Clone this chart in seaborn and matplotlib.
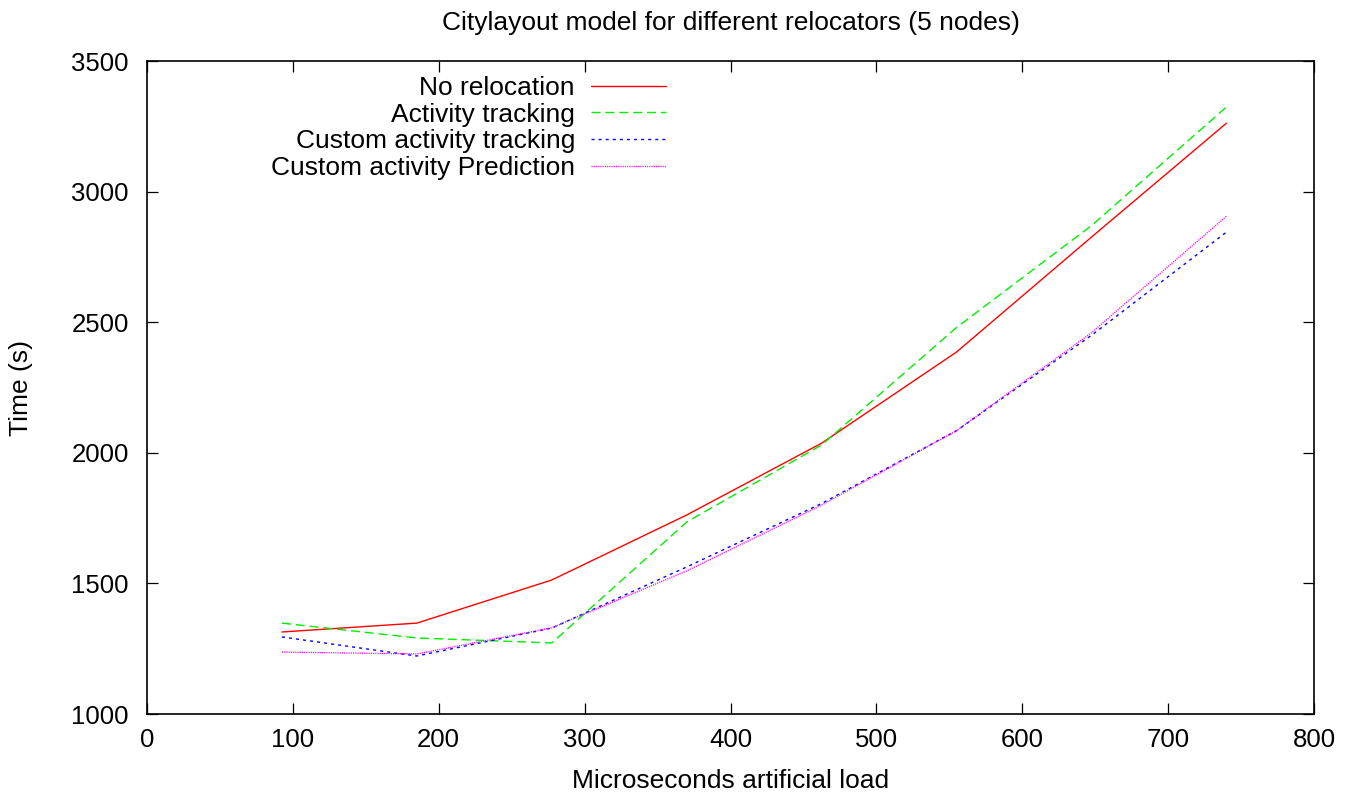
import matplotlib
matplotlib.use("Agg")
import matplotlib.pyplot as plt
import seaborn as sns
import pandas as pd

# Artificial load (microseconds) and run time (s) for each relocator
load_us = [92.5, 185, 277.5, 370, 462.5, 555, 647.5, 740]
no_relocation = [1314, 1348, 1513, 1762, 2037, 2386, 2826, 3262]
activity_tracking = [1348, 1291, 1272, 1735, 2030, 2480, 2870, 3324]
custom_activity_tracking = [1295, 1222, 1329, 1563, 1806, 2085, 2450, 2845]
custom_activity_prediction = [1237, 1230, 1330, 1548, 1800, 2085, 2460, 2906]

series_names = ["No relocation", "Activity tracking",
                "Custom activity tracking", "Custom activity Prediction"]
series_values = [no_relocation, activity_tracking,
                 custom_activity_tracking, custom_activity_prediction]

x_ticks = [0, 100, 200, 300, 400, 500, 600, 700, 800]
y_ticks = [1000, 1500, 2000, 2500, 3000, 3500]

title = "Citylayout model for different relocators (5 nodes)"
x_label = "Microseconds artificial load"
y_label = "Time (s)"

df = pd.concat(
    [pd.DataFrame({"load": load_us, "time": vals, "relocator": name})
     for name, vals in zip(series_names, series_values)],
    ignore_index=True,
)

sns.set_theme(style="white")
plt.rcParams["font.family"] = ["Liberation Sans", "DejaVu Sans"]
plt.rcParams["text.color"] = "black"
plt.rcParams["axes.labelcolor"] = "black"

colors = ["#ff0000", "#00ee00", "#0000ff", "#ff00ff"]
dashes = [None, (6.5, 3.5), (2.2, 2.9), (0.8, 0.8)]

fig = plt.figure(figsize=(13.61, 7.96), dpi=100)
ax = fig.add_axes([147 / 1361, 1 - 714 / 796, (1314 - 147) / 1361, (714 - 61) / 796])

for name, color, dash in zip(series_names, colors, dashes):
    sub = df[df["relocator"] == name]
    sns.lineplot(data=sub, x="load", y="time", ax=ax, color=color,
                 linewidth=1.0, label=name, estimator=None)
    if dash is not None:
        ax.lines[-1].set_dashes(dash)

ax.set_xlim(0, 800)
ax.set_ylim(1000, 3500)
ax.set_xticks(x_ticks)
ax.set_yticks(y_ticks)
ax.tick_params(axis="both", which="both", direction="in", length=8, width=0.9,
               labelsize=18.5, top=True, right=True, bottom=True,
               left=True, colors="black", labelcolor="black")
ax.tick_params(axis="x", pad=10)
ax.tick_params(axis="y", pad=13)
for s in ax.spines.values():
    s.set_color("black")
    s.set_linewidth(1.2)

ax.set_title(title, fontsize=19, pad=22, color="black")
ax.set_xlabel(x_label, fontsize=19, labelpad=12)
ax.set_ylabel(y_label, fontsize=19, labelpad=28)

leg = ax.legend(loc="upper right", bbox_to_anchor=(0.4447, 0.977), frameon=False,
                markerfirst=False, fontsize=19, handlelength=2.85,
                labelspacing=0.1, handletextpad=0.6, borderaxespad=0.0,
                borderpad=0.0)

fig.savefig("out.png", dpi=100)
